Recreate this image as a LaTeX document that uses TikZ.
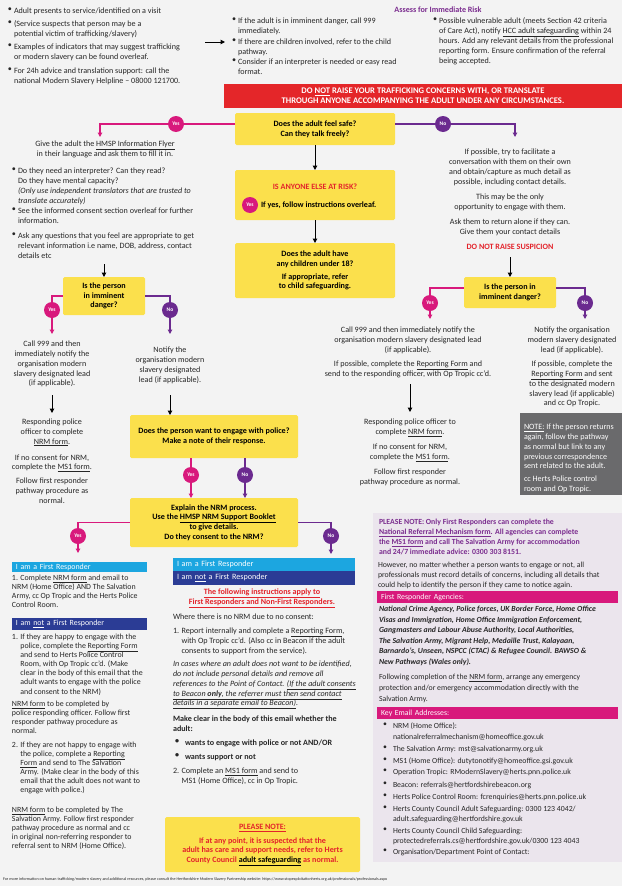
\documentclass[tikz,border=0pt]{standalone}
\usepackage{fontspec}
\setmainfont{Carlito}
\usetikzlibrary{arrows.meta}
\definecolor{bg}{HTML}{F3F3F3}
\definecolor{ylw}{HTML}{FBE04C}
\definecolor{mag}{HTML}{D8197C}
\definecolor{pur}{HTML}{6B2A8F}
\definecolor{redb}{HTML}{E42629}
\definecolor{redt}{HTML}{E3232B}
\definecolor{cyanh}{HTML}{1CA6E0}
\definecolor{navyh}{HTML}{2B3C95}
\definecolor{lav}{HTML}{EBE5ED}
\definecolor{greyn}{HTML}{6A6A6C}
\definecolor{purt}{HTML}{7B2D8F}
\definecolor{txt}{HTML}{262626}
\newcommand\fs{\fontsize{8.1}{9.8}\selectfont}
\newcommand\fsl{\fontsize{7.9}{9.1}\selectfont}
\newcommand\fsr{\fontsize{7.8}{10}\selectfont}
\newcommand\un[1]{\underline{#1}}
\newcommand\bpt[5]{\node[bul,#4] (#1b) at (#2,#3) {\textbullet};\node[para,#4] (#1) at ({#2+6},#3) {#5};}
\begin{document}
\begin{tikzpicture}[x=1pt,y=-1pt,
  every node/.style={inner sep=0pt,outer sep=0pt,text=txt},
  para/.style={font=\fs,align=left,anchor=north west},
  cpara/.style={font=\fs,align=center,anchor=north},
  bul/.style={font=\fs,anchor=north west},
  ybox/.style={fill=ylw,rounded corners=1.5pt,font=\fs\bfseries,align=center,text=black},
  yes/.style={circle,fill=mag,text=white,minimum size=16pt,font=\fontsize{5.5}{5.5}\selectfont\bfseries},
  no/.style={circle,fill=pur,text=white,minimum size=16pt,font=\fontsize{5.5}{5.5}\selectfont\bfseries},
  tip/.style={-{Triangle[length=4.5pt,width=4.5pt]}},
  arr/.style={tip,line width=1pt,black},
  ml/.style={tip,line width=1.1pt,mag},
  pl/.style={tip,line width=1.1pt,pur},
  hdr/.style={anchor=north west,text=white,align=left,inner xsep=4pt}]
\fill[bg] (0,0) rectangle (622,886);
\useasboundingbox (0,0) rectangle (622,886);

% ---------- top left
\bpt{tl1}{8}{8}{}{Adult presents to service/identified on a visit}
\bpt{tl2}{8}{21}{}{(Service suspects that person may be a\\potential victim of trafficking/slavery)}
\bpt{tl3}{8}{44}{}{Examples of indicators that may suggest trafficking\\or modern slavery can be found overleaf.}
\bpt{tl4}{8}{68}{}{For 24h advice and translation support: call the\\national Modern Slavery Helpline -- 08000 121700.}
\coordinate (a0s) at (205,42); \coordinate (a0e) at (225,42);
\draw[arr] (a0s) -- (a0e);

% ---------- assess
\node[font=\fs\bfseries,text=purt] (ass) at (438,10) {Assess for Immediate Risk};
\bpt{m1}{232}{18}{}{If the adult is in imminent danger, call 999\\immediately.}
\bpt{m2}{232}{39}{}{If there are children involved, refer to the child\\pathway.}
\bpt{m3}{232}{59}{}{Consider if an interpreter is needed or easy read\\format.}
\bpt{r1}{433}{18}{}{Possible vulnerable adult (meets Section 42 criteria\\of Care Act), notify \un{HCC adult safeguarding} within 24\\hours. Add any relevant details from the professional\\reporting form. Ensure confirmation of the referral\\being accepted.}

\node[fill=redb,anchor=north west,minimum width=398,minimum height=24,text=white,font=\fontsize{8.6}{9.8}\selectfont\bfseries,align=center] (ban) at (224,84)
 {DO \un{NOT} RAISE YOUR TRAFFICKING CONCERNS WITH, OR TRANSLATE\\THROUGH ANYONE ACCOMPANYING THE ADULT UNDER ANY CIRCUMSTANCES.};

% ---------- centre column
\node[ybox,minimum width=160,minimum height=32] (q1) at (315,129) {Does the adult feel safe?\\Can they talk freely?};
\node[ybox,minimum width=160,minimum height=50] (q2) at (315,195) {};
\node[font=\fs\bfseries,text=redt] (risk) at (315,187) {IS ANYONE ELSE AT RISK?};
\node[yes] (y5) at (250,205) {Yes};
\node[font=\fs\bfseries,anchor=west,text=black] (ify) at (261,205) {If yes, follow instructions overleaf.};
\node[ybox,minimum width=160,minimum height=55] (q3) at (315,270.5) {Does the adult have\\any children under 18?\\[3pt]If appropriate, refer\\to child safeguarding.};
\draw[arr] (q1.south) -- (q2.north);
\draw[arr] (q2.south) -- (q3.north);

% top yes / no
\node[yes] (y1) at (176,124) {Yes};
\node[no] (n1) at (443,124) {No};
\coordinate (k1l) at (100,124); \coordinate (k1le) at (100,137);
\coordinate (k1r) at (515,124); \coordinate (k1re) at (515,137);
\draw[ml,-] (q1.west|-y1) -- (y1);
\draw[ml] (y1) -- (k1l) -- (k1le);
\draw[pl,-] (q1.east|-n1) -- (n1);
\draw[pl] (n1) -- (k1r) -- (k1re);

% ---------- left column
\node[cpara] (give) at (105,141) {Give the adult the \un{HMSP Information Flyer}\\in their language and ask them to fill it in.};
\bpt{lb1}{12}{168}{}{Do they need an interpreter? Can they read?\\Do they have mental capacity?\\\textit{(Only use independent translators that are trusted to}\\\textit{translate accurately)}}
\bpt{lb2}{12}{208}{}{See the informed consent section overleaf for further\\information.}
\bpt{lb3}{12}{233}{}{Ask any questions that you feel are appropriate to get\\relevant information i.e name, DOB, address, contact\\details etc}
\node[ybox,minimum width=82,minimum height=38] (qL) at (104,296) {Is the person\\in imminent\\danger?};
\coordinate (aL) at (104,264);
\draw[arr] (aL) -- (qL.north);
\node[yes] (y2) at (52,310) {Yes};
\node[no] (n2) at (170,310) {No};
\coordinate (y2e) at (52,334); \coordinate (n2e) at (170,334);
\draw[ml,-] (qL.west) -- (qL.west-|y2) -- (y2);
\draw[ml] (y2) -- (y2e);
\draw[pl,-] (qL.east) -- (qL.east-|n2) -- (n2);
\draw[pl] (n2) -- (n2e);
\node[cpara] (l999) at (52,341) {Call 999 and then\\immediately notify the\\organisation modern\\slavery designated lead\\(if applicable).};
\node[cpara] (lnot) at (170,347) {Notify the\\organisation modern\\slavery designated\\lead (if applicable).};
\coordinate (aL2s) at (52,395); \coordinate (aL2e) at (52,413);
\draw[arr] (aL2s) -- (aL2e);
\node[cpara] (lresp) at (52,419) {Responding police\\officer to complete\\\un{NRM form}.};
\node[cpara] (lnoc) at (52,454.5) {If no consent for NRM,\\complete the \un{MS1 form}.};
\node[cpara] (lfol) at (52,478) {Follow first responder\\pathway procedure as\\normal.};

% ---------- engage / explain
\node[ybox,minimum width=168,minimum height=43] (eng) at (214,436.5) {Does the person want to engage with police?\\Make a note of their response.};
\coordinate (aM) at (170,395);
\draw[arr] (aM) -- (aM|-eng.north);
\node[ybox,minimum width=168,minimum height=49] (ex) at (214,522.5) {Explain the NRM process.\\Use the \un{HMSP NRM Support Booklet}\\to give details.\\Do they consent to the NRM?};
\node[yes] (y3) at (191,475) {Yes};
\node[no] (n3) at (245,475) {No};
\draw[ml,-] (eng.south-|y3) -- (y3);
\draw[ml] (y3) -- (ex.north-|y3);
\draw[pl,-] (eng.south-|n3) -- (n3);
\draw[pl] (n3) -- (ex.north-|n3);
\node[yes] (y4) at (78,536) {Yes};
\node[no] (n4) at (331,536) {No};
\coordinate (y4e) at (78,553); \coordinate (n4e) at (331,554);
\draw[ml,-] (ex.west) -- (ex.west-|y4) -- (y4);
\draw[ml] (y4) -- (y4e);
\draw[pl,-] (ex.east) -- (ex.east-|n4) -- (n4);
\draw[pl] (n4) -- (n4e);

% ---------- right column
\node[cpara] (rf) at (510,149) {If possible, try to facilitate a\\conversation with them on their own\\and obtain/capture as much detail as\\possible, including contact details.};
\node[cpara] (ro) at (510,194) {This may be the only\\opportunity to engage with them.};
\node[cpara] (ra) at (510,219) {Ask them to return alone if they can.\\Give them your contact details};
\node[font=\fs\bfseries,text=redt] (rs) at (510,247) {DO NOT RAISE SUSPICION};
\node[ybox,minimum width=92,minimum height=31] (qR) at (510,292.5) {Is the person in\\imminent danger?};
\coordinate (aR) at (510,257);
\draw[arr] (aR) -- (qR.north);
\node[yes] (y6) at (430,303) {Yes};
\node[no] (n6) at (585,303) {No};
\coordinate (kRl) at (430,288); \coordinate (kRr) at (585,288);
\coordinate (y6e) at (430,319); \coordinate (n6e) at (585,319);
\draw[ml,-] (qR.west|-kRl) -- (kRl) -- (y6);
\draw[ml] (y6) -- (y6e);
\draw[pl,-] (qR.east|-kRr) -- (kRr) -- (n6);
\draw[pl] (n6) -- (n6e);
\node[cpara] (r999) at (408,327) {Call 999 and then immediately notify the\\organisation modern slavery designated lead\\(if applicable).};
\node[cpara] (rrep) at (408,361) {If possible, complete the \un{Reporting Form} and\\send to the responding officer, with Op Tropic cc'd.};
\coordinate (aR2s) at (410,384); \coordinate (aR2e) at (410,412);
\draw[arr] (aR2s) -- (aR2e);
\node[cpara] (rresp) at (410,419) {Responding police officer to\\complete \un{NRM form}.};
\node[cpara] (rnoc) at (410,444) {If no consent for NRM,\\complete the \un{MS1 form}.};
\node[cpara] (rfol) at (410,469) {Follow first responder\\pathway procedure as normal.};
\node[cpara] (rnot) at (572,327) {Notify the organisation\\modern slavery designated\\lead (if applicable).};
\node[cpara] (rpos) at (572,361) {If possible, complete the\\\un{Reporting Form} and sent\\to the designated modern\\slavery lead (if applicable)\\and cc Op Tropic.};
\node[fill=greyn,anchor=north west,minimum width=102,minimum height=82] (note) at (520,413) {};
\node[para,text=white] (notet) at (524,424) {\un{NOTE:} If the person returns\\again, follow the pathway\\as normal but link to any\\previous correspondence\\sent related to the adult.\\[3pt]cc Herts Police control\\room and Op Tropic.};

% ---------- bottom left
\node[hdr,fill=cyanh,text width=127,minimum height=10,font=\fsl] (h1) at (12,562) {I am a First Responder};
\node[para,font=\fsl] (bl1) at (12,575) {1. Complete \un{NRM form} and email to\\NRM (Home Office) AND The Salvation\\Army, cc Op Tropic and the Herts Police\\Control Room.};
\node[hdr,fill=navyh,text width=127,minimum height=12,font=\fsl] (h2) at (12,618) {I am \un{not} a First Responder};
\node[para,font=\fsl] (bl2) at (12,634) {1. If they are happy to engage with the\\\hphantom{1. }police, complete the \un{Reporting Form}\\\hphantom{1. }and send to Herts Police Control\\\hphantom{1. }Room, with Op Tropic cc'd. (Make\\\hphantom{1. }clear in the body of this email that the\\\hphantom{1. }adult wants to engage with the police\\\hphantom{1. }and consent to the NRM)};
\node[para,font=\fsl] (bl3) at (12,701) {\un{NRM form} to be completed by\\police responding officer. Follow first\\responder pathway procedure as\\normal.};
\node[para,font=\fsl] (bl4) at (12,742) {2. If they are not happy to engage with\\\hphantom{2. }the police, complete a \un{Reporting}\\\hphantom{2. }\un{Form} and send to The Salvation\\\hphantom{2. }Army. (Make clear in the body of this\\\hphantom{2. }email that the adult does not want to\\\hphantom{2. }engage with police.)};
\node[para,font=\fsl] (bl5) at (12,807) {\un{NRM form} to be completed by The\\Salvation Army. Follow first responder\\pathway procedure as normal and cc\\in original non-referring responder to\\referral sent to NRM (Home Office).};

% ---------- bottom middle
\node[hdr,fill=cyanh,text width=174,minimum height=13,font=\fs] (hm1) at (173,558) {I am a First Responder};
\node[hdr,fill=navyh,text width=174,minimum height=14,font=\fs] (hm2) at (173,571) {I am \un{not} a First Responder};
\node[cpara,font=\fs\bfseries,text=redt] (mred) at (262,589) {\un{The following instructions apply to}\\\un{First Responders and Non-First Responders.}};
\node[para] (mw) at (173,614) {Where there is no NRM due to no consent:};
\node[para] (m1) at (173,628) {1. Report internally and complete a \un{Reporting Form},\\\hphantom{1. }with Op Tropic cc'd. (Also cc in Beacon if the adult\\\hphantom{1. }consents to support from the service).};
\node[para,font=\fs\itshape] (mit) at (173,661) {In cases where an adult does not want to be identified,\\do not include personal details and remove all\\references to the Point of Contact. \un{(If the adult consents}\\\un{to Beacon \textbf{only}, the referrer must then send contact}\\\un{details in a separate email to Beacon)}.};
\node[para,font=\fs\bfseries] (mmk) at (173,716) {Make clear in the body of this email whether the\\adult:};
\bpt{mb1}{175}{740}{font=\fs\bfseries}{\hspace{4pt}wants to engage with police or not AND/OR}
\bpt{mb2}{175}{754}{font=\fs\bfseries}{\hspace{4pt}wants support or not}
\node[para] (m2) at (173,768) {2. Complete an \un{MS1 form} and send to\\\hphantom{2. }MS1 (Home Office), cc in Op Tropic.};
\node[fill=ylw,rounded corners=1.5pt,minimum width=195,minimum height=55] (mnote) at (262.5,844.5) {};
\node[cpara,font=\fs\bfseries,text=redt] (mnt) at (262.5,824) {\un{PLEASE NOTE:}\\[4pt]If at any point, it is suspected that the\\adult has care and support needs, refer to Herts\\County Council {\color{black}\un{adult safeguarding}} as normal.};

% ---------- bottom right panel
\node[fill=lav,anchor=north west,minimum width=249,minimum height=349] (lavp) at (373,513) {};
\node[para,font=\fsr\bfseries,text=purt] (pn) at (379,519) {PLEASE NOTE: Only First Responders can complete the\\\un{National Referral Mechanism form}. All agencies can complete\\the \un{MS1 form} and call The Salvation Army for accommodation\\and 24/7 immediate advice: 0300 303 8151.};
\node[para,font=\fsr] (hw) at (378,562) {However, no matter whether a person wants to engage or not, all\\professionals must record details of concerns, including all details that\\could help to identify the person if they came to notice again.};
\node[hdr,fill=mag,text width=233,minimum height=12,font=\fsr] (hA) at (377,591) {First Responder Agencies:};
\node[para,font=\fontsize{7.8}{10.6}\selectfont\bfseries\itshape] (ag) at (379,606) {National Crime Agency, Police forces, UK Border Force, Home Office\\Visas and Immigration, Home Office Immigration Enforcement,\\Gangmasters and Labour Abuse Authority, Local Authorities,\\The Salvation Army, Migrant Help, Medaille Trust, Kalayaan,\\Barnardo's, Unseen, NSPCC (CTAC) \& Refugee Council. BAWSO \&\\New Pathways (Wales only).};
\node[para,font=\fontsize{7.8}{11}\selectfont] (fo) at (379,674) {Following completion of the \un{NRM form}, arrange any emergency\\protection and/or emergency accommodation directly with the\\Salvation Army.};
\node[hdr,fill=mag,text width=233,minimum height=12,font=\fsr] (hK) at (377,707) {Key Email Addresses:};
\bpt{e1}{383}{723}{font=\fontsize{7.8}{10.5}\selectfont}{\hspace{4pt}NRM (Home Office):\\\hspace{4pt}nationalreferralmechanism@homeoffice.gov.uk}
\bpt{e2}{383}{746}{font=\fsr}{\hspace{4pt}The Salvation Army: mst@salvationarmy.org.uk}
\bpt{e3}{383}{758}{font=\fsr}{\hspace{4pt}MS1 (Home Office): dutytonotify@homeoffice.gsi.gov.uk}
\bpt{e4}{383}{769}{font=\fsr}{\hspace{4pt}Operation Tropic: RModernSlavery@herts.pnn.police.uk}
\bpt{e5}{383}{782}{font=\fsr}{\hspace{4pt}Beacon: referrals@hertfordshirebeacon.org}
\bpt{e6}{383}{794}{font=\fsr}{\hspace{4pt}Herts Police Control Room: fcrenquiries@herts.pnn.police.uk}
\bpt{e7}{383}{806}{font=\fontsize{7.8}{10.5}\selectfont}{\hspace{4pt}Herts County Council Adult Safeguarding: 0300 123 4042/\\\hspace{4pt}adult.safeguarding@hertfordshire.gov.uk}
\bpt{e8}{383}{828}{font=\fontsize{7.8}{10.5}\selectfont}{\hspace{4pt}Herts County Council Child Safeguarding:\\\hspace{4pt}protectedreferrals.cs@hertfordshire.gov.uk/0300 123 4043}
\bpt{e9}{383}{849}{font=\fsr}{\hspace{4pt}Organisation/Department Point of Contact:}

% ---------- footer
\node[anchor=west,font=\fontsize{4.1}{4.5}\selectfont] (foot) at (3,879) {For more information on human trafficking/modern slavery and additional resources, please consult the Hertfordshire Modern Slavery Partnership website: https://www.stopexploitationherts.org.uk/professionals/professionals.aspx};
\end{tikzpicture}
\end{document}
